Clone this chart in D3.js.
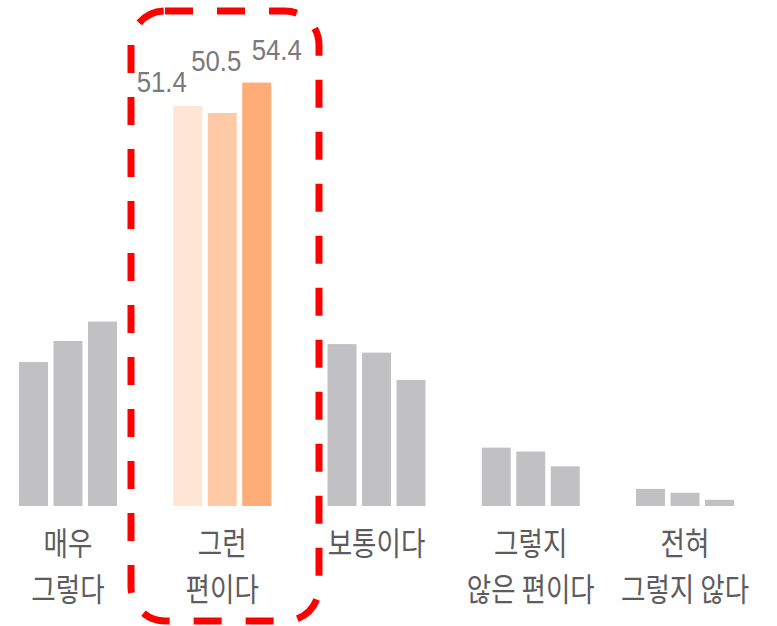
<!DOCTYPE html>
<html>
<head>
<meta charset="utf-8">
<script src="https://d3js.org/d3.v7.min.js"></script>
<style>
  html, body { margin: 0; padding: 0; background: #fff; }
  svg { display: block; }
</style>
</head>
<body>
<div id="chart"></div>
<script>
// categories (두 줄 라벨은 배열로)
const categories = ["매우 그렇다", "그런 편이다", "보통이다", "그렇지 않은 편이다", "전혀 그렇지 않다"];
const categoryLines = [["매우", "그렇다"], ["그런", "편이다"], ["보통이다"], ["그렇지", "않은 편이다"], ["전혀", "그렇지 않다"]];
const series = ["s1", "s2", "s3"];

// values per series, in category order
const s1 = [18.5, 51.4, 20.8, 7.5, 2.2];
const s2 = [21.2, 50.5, 19.7, 7.0, 1.7];
const s3 = [23.7, 54.4, 16.2, 5.1, 0.8];
const values = [s1, s2, s3];

const highlight = "그런 편이다";
const grayColors = ["#c1c1c3", "#c1c1c3", "#c1c1c3"];
const hiColors = ["#ffe5d5", "#ffcba6", "#ffad78"];
// shift of the value labels (dx from bar centre, dy from bar top)
const labelShift = [[-26, -14], [-6, -42], [20, -23]];

const width = 777, height = 626;

const svg = d3.select("#chart").append("svg")
  .attr("width", width).attr("height", height);

const x0 = d3.scaleBand().domain(categories).range([19, 734]).paddingInner(0.365);
const x1 = d3.scaleBand().domain(series).range([0, x0.bandwidth()]).paddingInner(0.16);
const y = d3.scaleLinear().domain([0, 60]).range([506, 39]);

const groups = svg.selectAll("g.grp")
  .data(categories)
  .join("g")
  .attr("class", "grp")
  .attr("transform", d => `translate(${x0(d)},0)`);

groups.selectAll("rect")
  .data((c, ci) => series.map((s, si) => ({ c, s, si, v: values[si][ci] })))
  .join("rect")
  .attr("x", d => x1(d.s))
  .attr("y", d => y(d.v))
  .attr("width", x1.bandwidth())
  .attr("height", d => y(0) - y(d.v))
  .attr("fill", d => d.c === highlight ? hiColors[d.si] : grayColors[d.si]);

// value labels only for the highlighted group
const hi = categories.indexOf(highlight);
svg.selectAll("text.val")
  .data(series.map((s, si) => ({ s, si, v: values[si][hi] })))
  .join("text")
  .attr("class", "val")
  .attr("transform", d => `translate(${x0(highlight) + x1(d.s) + x1.bandwidth() / 2 + labelShift[d.si][0]},${y(d.v) + labelShift[d.si][1]}) scale(0.86,1)`)
  .attr("text-anchor", "middle")
  .attr("font-family", "'Liberation Sans', Arial, sans-serif")
  .attr("font-size", 30)
  .attr("fill", "#7a7a7a")
  .text(d => d.v.toFixed(1));

// category labels
const lab = svg.selectAll("g.cat")
  .data(categories)
  .join("g")
  .attr("class", "cat")
  .attr("transform", d => `translate(${x0(d) + x0.bandwidth() / 2},555) scale(0.83,1)`);

lab.selectAll("text")
  .data((d, i) => categoryLines[i])
  .join("text")
  .attr("x", 0)
  .attr("y", (d, i) => i * 46)
  .attr("text-anchor", "middle")
  .attr("font-family", "'Noto Sans CJK KR', 'Noto Sans', sans-serif")
  .attr("font-size", 32)
  .attr("fill", "#5c5c5c")
  .text(d => d);

// red dashed highlight box
svg.append("rect")
  .attr("x", 131)
  .attr("y", 11)
  .attr("width", 188)
  .attr("height", 610)
  .attr("rx", 34)
  .attr("fill", "none")
  .attr("stroke", "#ff0000")
  .attr("stroke-width", 7)
  .attr("stroke-dasharray", "28 24");
</script>
</body>
</html>
